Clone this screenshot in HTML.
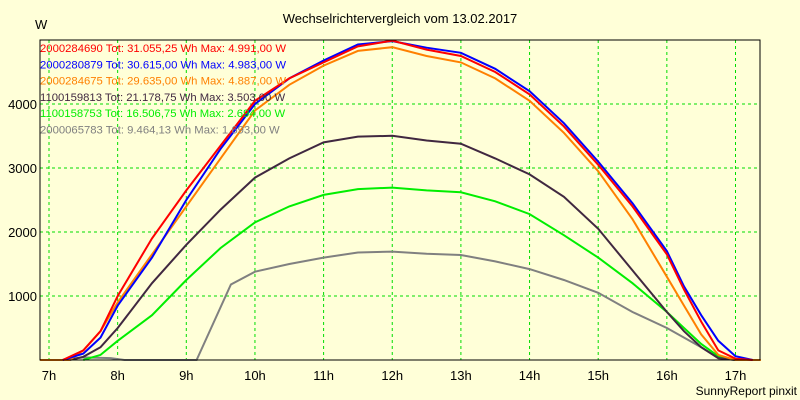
<!DOCTYPE html>
<html><head><meta charset="utf-8"><style>
body{margin:0;background:#ffffd8;}
svg{display:block;font-family:"Liberation Sans",sans-serif;}
</style></head><body>
<svg id="chart" width="800" height="400" viewBox="0 0 800 400">
<rect width="800" height="400" fill="#ffffd8"/>
<text x="400" y="23" text-anchor="middle" font-size="13" fill="#000">Wechselrichtervergleich vom 13.02.2017</text>
<text x="35" y="29" font-size="13" fill="#000">W</text>
<text x="797" y="395" text-anchor="end" font-size="12" fill="#000">SunnyReport pinxit</text>
<g id="grid"></g><g id="series"></g><g id="axes"></g><g id="legend"></g>
</svg>
<script>
const hourTicks=[7,8,9,10,11,12,13,14,15,16,17];
const yTicks=[1000,2000,3000,4000];
const names=["2000284690","2000280879","2000284675","1100159813","1100158753","2000065783"];
const totals=["31.055,25","30.615,00","29.635,00","21.178,75","16.506,75","9.464,13"];
const maxes=["4.991,00","4.983,00","4.887,00","3.503,00","2.694,00","1.693,00"];
const colors=["#ff0000","#0000ff","#ff8000","#402840","#00ee00","#808080"];
const tRed=[7.2,7.5,7.75,8,8.5,9,9.5,10,10.5,11,11.5,12,12.5,13,13.5,14,14.5,15,15.5,16,16.25,16.5,16.75,17,17.25];
const vRed=[0,150,450,1000,1900,2650,3350,4050,4400,4650,4900,4990,4850,4750,4500,4150,3650,3050,2400,1650,1100,600,150,20,0];
const tBlue=[7.2,7.5,7.75,8,8.5,9,9.5,10,10.5,11,11.5,12,12.5,13,13.5,14,14.5,15,15.5,16,16.25,16.5,16.75,17,17.25];
const vBlue=[0,100,350,850,1600,2500,3300,4000,4400,4680,4930,4983,4880,4800,4550,4200,3700,3100,2450,1700,1150,700,300,60,0];
const tOrange=[6.87,7.3,7.5,7.75,8,8.5,9,9.5,10,10.5,11,11.5,12,12.5,13,13.5,14,14.5,15,15.5,16,16.25,16.5,16.75,17,17.37];
const vOrange=[0,0,150,450,900,1650,2400,3150,3900,4300,4600,4830,4887,4750,4650,4400,4050,3550,2950,2200,1300,850,400,80,0,0];
const tDark=[7.3,7.5,7.75,8,8.5,9,9.5,10,10.5,11,11.5,12,12.5,13,13.5,14,14.5,15,15.5,16,16.25,16.5,16.75,17];
const vDark=[0,50,200,500,1200,1800,2350,2850,3150,3400,3490,3503,3430,3380,3150,2900,2550,2050,1400,750,450,200,30,0];
const tGreen=[7.5,7.75,8,8.5,9,9.5,10,10.5,11,11.5,12,12.5,13,13.5,14,14.5,15,15.5,16,16.25,16.5,16.75,17];
const vGreen=[0,80,300,700,1250,1750,2150,2400,2580,2670,2694,2650,2620,2480,2280,1950,1600,1200,750,500,250,60,0];
const tGray=[7.2,7.5,7.9,8.1,9.15,9.65,10,10.5,11,11.5,12,12.5,13,13.5,14,14.5,15,15.5,16,16.5,16.75,17];
const vGray=[0,40,30,0,0,1180,1380,1500,1600,1680,1693,1660,1640,1540,1420,1250,1050,750,500,200,30,0];
const T=[tRed,tBlue,tOrange,tDark,tGreen,tGray], V=[vRed,vBlue,vOrange,vDark,vGreen,vGray];
const L=40,R=760,Tp=40,B=360;
const x=h=>49+(h-7)*68.65;
const y=v=>B-v*(B-Tp)/5000;
const NS="http://www.w3.org/2000/svg";
function mk(tag,attrs,parent){const e=document.createElementNS(NS,tag);for(const k in attrs)e.setAttribute(k,attrs[k]);document.getElementById(parent).appendChild(e);return e;}
for(const h of hourTicks){
 const g=mk("line",{x1:x(h),x2:x(h),y1:Tp,y2:B,stroke:"#00dd00","stroke-dasharray":"3,3"},"grid");
 
 
 const t=mk("text",{x:x(h),y:B+20,"text-anchor":"middle","font-size":"13"},"axes");t.textContent=h+"h";
 
 
}
for(const v of yTicks){
 const g=mk("line",{x1:L,x2:R,y1:y(v),y2:y(v),stroke:"#00dd00","stroke-dasharray":"3,3"},"grid");
 
 
 const t=mk("text",{x:L-3,y:y(v)+5,"text-anchor":"end","font-size":"13"},"axes");t.textContent=v;
 
 
}
const fr=mk("rect",{x:L,y:Tp,width:R-L,height:B-Tp,fill:"none",stroke:"#000"},"axes");


for(let i=5;i>=0;i--){
 const pts=T[i].map((t,j)=>x(t).toFixed(1)+","+y(V[i][j]).toFixed(1)).join(" ");
 const p=mk("polyline",{points:pts,fill:"none",stroke:colors[i],"stroke-width":"2"},"series");
 
 
}
for(let i=0;i<6;i++){
 const t=mk("text",{x:40,y:52+i*16.3,"font-size":"11.3",fill:colors[i]},"legend");
 t.textContent=names[i]+" Tot: "+totals[i]+" Wh Max: "+maxes[i]+" W";
 
 
}
</script>
</body></html>
